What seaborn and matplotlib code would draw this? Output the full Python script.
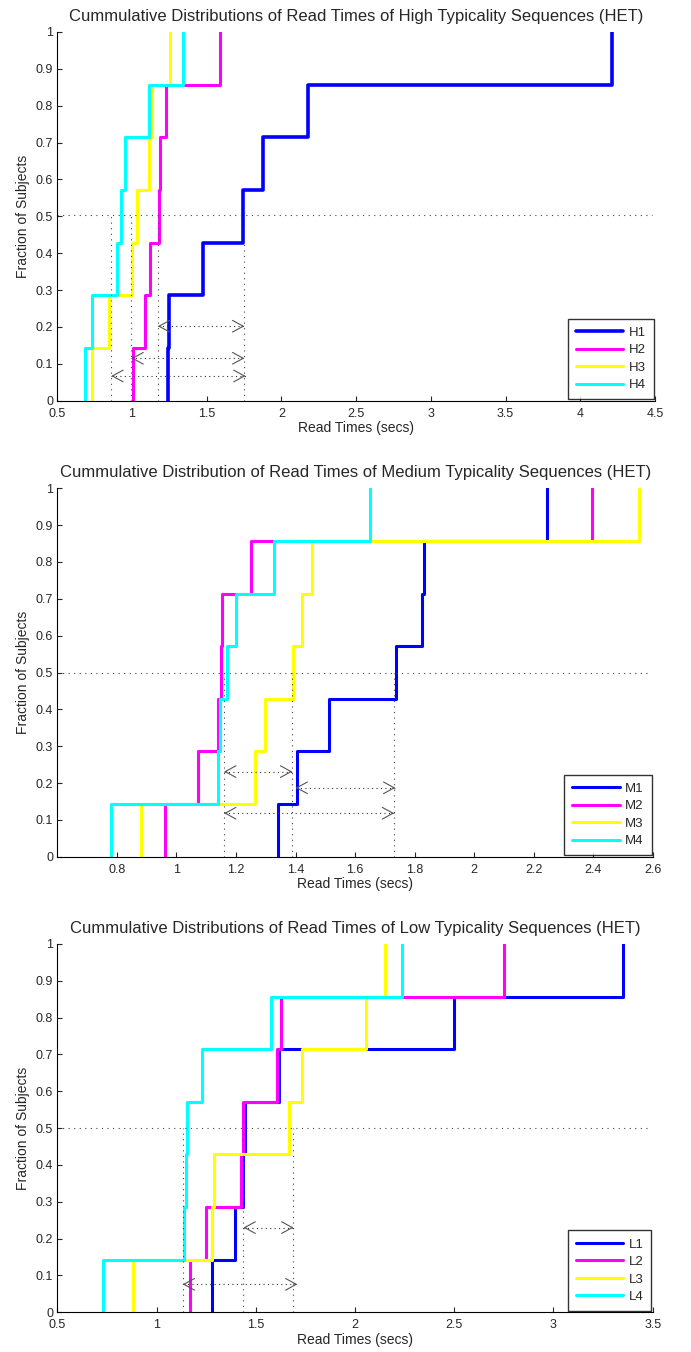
import numpy as np
import pandas as pd
import matplotlib
matplotlib.use("Agg")
import matplotlib.pyplot as plt
import seaborn as sns

# ---------------- data ----------------
high_labels = ["H1", "H2", "H3", "H4"]
high_H1 = [1.239, 1.248, 1.473, 1.741, 1.878, 2.181, 4.215]
high_H2 = [1.004, 1.086, 1.122, 1.181, 1.186, 1.230, 1.591]
high_H3 = [0.735, 0.845, 1.000, 1.035, 1.111, 1.133, 1.252]
high_H4 = [0.684, 0.735, 0.898, 0.929, 0.951, 1.115, 1.341]
high_medians = [0.861, 0.996, 1.173, 1.752]
high_arrows = [(1.173, 1.752, 0.202), (0.996, 1.752, 0.115), (0.861, 1.760, 0.067)]
high_refline = 0.505

med_labels = ["M1", "M2", "M3", "M4"]
med_M1 = [1.342, 1.404, 1.513, 1.736, 1.826, 1.830, 2.244]
med_M2 = [0.961, 1.072, 1.139, 1.150, 1.153, 1.249, 2.396]
med_M3 = [0.881, 1.263, 1.298, 1.392, 1.420, 1.455, 2.553]
med_M4 = [0.780, 1.139, 1.146, 1.171, 1.201, 1.328, 1.651]
med_medians = [1.160, 1.389, 1.731]
med_arrows = [(1.160, 1.389, 0.231), (1.400, 1.735, 0.187), (1.160, 1.731, 0.118)]
med_refline = 0.5

low_labels = ["L1", "L2", "L3", "L4"]
low_L1 = [1.280, 1.396, 1.435, 1.445, 1.619, 2.497, 3.351]
low_L2 = [1.171, 1.251, 1.424, 1.438, 1.606, 1.628, 2.749]
low_L3 = [0.880, 1.281, 1.290, 1.665, 1.735, 2.056, 2.149]
low_L4 = [0.732, 1.140, 1.150, 1.154, 1.231, 1.577, 2.236]
low_medians = [1.132, 1.438, 1.690]
low_arrows = [(1.438, 1.690, 0.230), (1.132, 1.710, 0.076)]
low_refline = 0.5

titles = [
    "Cummulative Distributions of Read Times of High Typicality Sequences (HET)",
    "Cummulative Distribution of Read Times of Medium Typicality Sequences (HET)",
    "Cummulative Distributions of Read Times of Low Typicality Sequences (HET)",
]
xlims = [(0.5, 4.5), (0.6, 2.6), (0.5, 3.5)]
xticks = [np.arange(0.5, 4.51, 0.5), np.arange(0.8, 2.61, 0.2), np.arange(0.5, 3.51, 0.5)]

colors = ["#0000FF", "#FF00FF", "#FFFF00", "#00FFFF"]

# ---------------- style ----------------
sns.set_style("ticks")
plt.rcParams["font.family"] = ["Liberation Sans", "DejaVu Sans"]
plt.rcParams["xtick.direction"] = "in"
plt.rcParams["ytick.direction"] = "in"
plt.rcParams["axes.edgecolor"] = "black"
plt.rcParams["axes.linewidth"] = 0.8

fig = plt.figure(figsize=(6.91, 13.52), dpi=100)
W, H = 691.0, 1352.0
boxes = [(57.3, 32.0, 655.0, 400.7), (57.3, 488.3, 653.0, 856.7), (57.3, 944.0, 652.7, 1312.3)]

groups = [
    (high_labels, [high_H1, high_H2, high_H3, high_H4], high_medians, high_arrows, high_refline),
    (med_labels, [med_M1, med_M2, med_M3, med_M4], med_medians, med_arrows, med_refline),
    (low_labels, [low_L1, low_L2, low_L3, low_L4], low_medians, low_arrows, low_refline),
]

dot = (0, (1, 4))
head_kw = dict(arrowstyle="->,head_length=0.55,head_width=0.3", color="#555555",
               lw=0.8, mutation_scale=14, shrinkA=0, shrinkB=0)

for k, ((labels, series, medians, arrows, refline), (l, t, r, b)) in enumerate(zip(groups, boxes)):
    ax = fig.add_axes([l / W, 1 - b / H, (r - l) / W, (b - t) / H])
    for lab, vals, c in zip(labels, series, colors):
        v = sorted(vals)
        n = len(v)
        df = pd.DataFrame({"x": [v[0]] + v, "y": [i / n for i in range(n + 1)]})
        lw = 2.6 if (k == 0 and lab == "H1") else 2.2
        sns.lineplot(data=df, x="x", y="y", ax=ax, sort=False, estimator=None,
                     drawstyle="steps-post", color=c, lw=lw, label=lab)
    # reference dotted lines
    ax.axhline(refline, color="#444444", ls=dot, lw=0.8, xmax=0.995)
    ax.vlines(medians, 0, refline, colors="#444444", linestyles=dot, lw=0.8)
    span = xlims[k][1] - xlims[k][0]
    eps = span * 0.004
    for x0, x1, yy in arrows:
        ax.hlines(yy, x0, x1, colors="#333333", linestyles=(0, (1, 3)), lw=0.8)
        ax.annotate("", xy=(x0, yy), xytext=(x0 + eps, yy), arrowprops=head_kw)
        ax.annotate("", xy=(x1, yy), xytext=(x1 - eps, yy), arrowprops=head_kw)
    ax.set_xlim(*xlims[k])
    ax.set_ylim(0, 1)
    ax.set_xticks(xticks[k])
    ax.set_xticklabels([f"{t:g}" for t in xticks[k]], fontsize=9)
    yt = np.round(np.arange(0, 1.01, 0.1), 1)
    ax.set_yticks(yt)
    ax.set_yticklabels([f"{t:g}" for t in yt], fontsize=9)
    ax.set_xlabel("Read Times (secs)", fontsize=10, labelpad=1)
    ax.set_ylabel("Fraction of Subjects", fontsize=10, labelpad=4)
    ax.set_title(titles[k], fontsize=12, pad=8)
    sns.despine(ax=ax)
    leg = ax.legend(loc="lower right", fontsize=9.5, handlelength=3.6, frameon=True,
                    fancybox=False, edgecolor="black", borderaxespad=0.1,
                    labelspacing=0.4, handletextpad=0.4, borderpad=0.6)
    leg.get_frame().set_linewidth(1.0)
    ax.tick_params(axis="x", which="major", pad=5, length=3.5)
    ax.tick_params(axis="y", which="major", pad=3, length=3.5)

fig.savefig("out.png", dpi=100)
